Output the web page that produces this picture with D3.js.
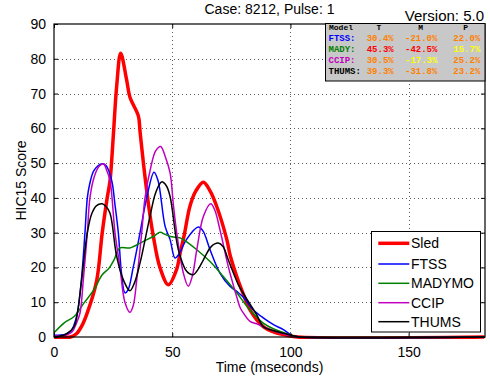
<!DOCTYPE html>
<html><head><meta charset="utf-8">
<script src="https://cdn.jsdelivr.net/npm/d3@7"></script>
<style>body{margin:0;background:#fff}svg{display:block}</style>
</head><body><svg id="c" width="490" height="383" font-family="Liberation Sans, Arial, sans-serif"></svg>
<script>
// ---- data ----
const sledT = [0,7,9.6,12,14.1,18,20.4,22.5,23.7,25.1,26.5,28.2,30.7,32.1,35.7,36.4,38.5,40.6,42,44.8,48.4,51.9,53.3,55,57.5,60,63.2,66,68.8,73.1,74.5,77.3,80,82.9,88.5,94,98.4,103,182];
const sledV = [0,0,1,3.5,7,16,30,40,45,58,72,81.6,74,69,63.5,59,46,35,29,20,15,19.5,24,29,37.6,42,44.5,42,37.6,28,23.5,17.4,12.5,7.8,3,1.2,0.5,0,0];
const ftssT = [0,5,7,8.5,9.9,11.6,13.1,14.1,15.1,17,20.4,22,24.4,25.8,27.2,28.6,30,31.3,33.5,36.4,39.2,42.3,44,47,49.1,51.2,53,56,61,63,66,70.2,74.5,77.3,80,84,88.5,93,97,101,104,182];
const ftssV = [0.5,0.8,1.5,3.5,6.9,16.5,30,40,44,48,49.8,49.3,45,38,30,18,12.7,13.5,20,30,40,47.4,45,31.8,28,22.7,24,28,31.6,30.5,25.1,18.4,14.5,13.1,11.5,8,5.5,3.5,2.1,0.3,0,0];
const madyT = [0,4.2,8.5,12.7,16.9,20.4,23.3,25.4,27.9,32.1,37.8,42,44.8,47,49.1,53.3,54.7,60.4,66,71.6,77.3,82,88.5,93,97,102,104,182];
const madyV = [1.2,4,5.9,9.8,13.6,17.9,19.8,22.2,25.6,25.6,27.5,28.9,30.1,29.5,28.9,28.5,28,25.1,21.7,17.4,12.7,8.5,4,2.3,1.3,0.2,0,0];
const ccipT = [0,5,7.7,9.5,11,12.4,14.1,15.2,17,19,20.9,22.5,23.7,25.8,27.9,30,32.1,33.5,35,37.1,38.5,41,43,45.1,47,49.1,50.5,51.9,54.7,56.8,58.5,60.4,63.2,66.3,68,70.2,73.7,75.2,77.3,78.7,80,82.9,85.7,90,95,100,104,182];
const ccipV = [0.3,0.5,1.5,4,6.9,16.5,30,40,46,49,49.8,47.5,45,30,20,10,7.1,9,16.5,30,40,49,53.5,54.8,52,47.2,38,30,18.4,14.6,17.5,25.1,34.7,38.3,36.5,30.8,20.3,16.5,11.5,8.5,7,4.5,3.8,2.5,1.3,0.4,0,0];
const thumT = [0,5,8.5,9.9,11.7,14.1,16,18,20.4,22,23.7,26.5,29.3,32.1,34,36.4,40.6,43,45.5,47.5,49.1,52.6,56.1,58.9,61,63.2,66.5,69.5,71.5,73.7,78,81,85.7,88.5,93,97,101,104,182];
const thumV = [0,0.8,3,6.9,16.5,30,35.5,37.8,38.3,37.5,35.6,23.2,16.5,13.3,15.5,21.3,34.7,41.5,44.6,43.5,40.4,25.1,18.9,17.9,19.5,22.2,26,27,26,22.2,15,11.5,6.4,3,1.8,1.1,0.4,0,0];

const seriesNames = ["Sled","FTSS","MADYMO","CCIP","THUMS"];
const seriesColors = ["#ff0000","#0000ff","#008000","#c000c0","#000000"];
const seriesWidths = [3.5,1.5,1.5,1.5,1.5];
const seriesT = [sledT,ftssT,madyT,ccipT,thumT];
const seriesV = [sledV,ftssV,madyV,ccipV,thumV];

const xTicks = [0,50,100,150];
const yTicks = [0,10,20,30,40,50,60,70,80,90];

const tableHeader = ["Model","T","M","P"];
const tableModels = ["FTSS:","MADY:","CCIP:","THUMS:"];
const tableModelColors = ["#0000ff","#008000","#c000c0","#000000"];
const tableT = ["30.4%","45.3%","30.5%","39.3%"];
const tableM = ["-21.0%","-42.5%","-17.3%","-31.8%"];
const tableP = ["22.0%","15.7%","25.2%","23.2%"];
const tableTColors = ["#ff8000","#ff0000","#ff8000","#ff8000"];
const tableMColors = ["#ff8000","#ff0000","#ffff00","#ff8000"];
const tablePColors = ["#ff8000","#ffff00","#ff8000","#ff8000"];

// ---- layout ----
const svg = d3.select("#c");
const L = 54, R = 485, T = 24, B = 337;
const x = d3.scaleLinear().domain([0,182.3]).range([L,R]);
const y = d3.scaleLinear().domain([0,90]).range([B,T]);

// gridlines
const grid = svg.append("g");
grid.selectAll("line.gx").data(xTicks.filter(d=>d>0)).join("line")
  .attr("x1",d=>Math.round(x(d))+0.5).attr("x2",d=>Math.round(x(d))+0.5)
  .attr("y1",T).attr("y2",B).attr("stroke","#333").attr("stroke-width",0.8).attr("stroke-dasharray","1,3");
grid.selectAll("line.gy").data(yTicks.filter(d=>d>0&&d<90)).join("line")
  .attr("y1",d=>Math.round(y(d))+0.5).attr("y2",d=>Math.round(y(d))+0.5)
  .attr("x1",L).attr("x2",R).attr("stroke","#333").attr("stroke-width",0.8).attr("stroke-dasharray","1,3");

// clip
svg.append("clipPath").attr("id","pc").append("rect").attr("x",L).attr("y",T).attr("width",R-L).attr("height",B-T+2);

const line = d3.line().x(d=>x(d[0])).y(d=>y(Math.max(0,d[1]))).curve(d3.curveCatmullRom.alpha(0.5));
const lg = svg.append("g").attr("clip-path","url(#pc)");
seriesNames.forEach((n,i)=>{
  const pts = seriesT[i].map((t,j)=>[t,seriesV[i][j]]);
  lg.append("path").attr("d",line(pts)).attr("fill","none")
    .attr("stroke",seriesColors[i]).attr("stroke-width",seriesWidths[i]).attr("stroke-linejoin","round");
});

// axes
const fontSize = 14;
const xAxis = d3.axisBottom(x).tickValues(xTicks).tickSize(-4).tickPadding(8).tickFormat(d3.format("d"));
const gx = svg.append("g").attr("transform",`translate(0,${B})`).call(xAxis);
const yAxis = d3.axisLeft(y).tickValues(yTicks).tickSize(-4).tickPadding(8).tickFormat(d3.format("d"));
const gy = svg.append("g").attr("transform",`translate(${L},0)`).call(yAxis);
svg.append("g").attr("transform",`translate(0,${T})`).call(d3.axisTop(x).tickValues(xTicks).tickSize(-4).tickFormat(""));
svg.append("g").attr("transform",`translate(${R},0)`).call(d3.axisRight(y).tickValues(yTicks).tickSize(-4).tickFormat(""));
svg.selectAll(".domain").remove();
svg.selectAll(".tick line").attr("stroke","#000");
[gx,gy].forEach(g=>g.selectAll("text").attr("font-size",fontSize).attr("font-family","Liberation Sans, Arial, sans-serif").attr("fill","#000"));
gx.selectAll("text").attr("dy","0.85em");
// frame
svg.append("rect").attr("x",L).attr("y",T).attr("width",R-L).attr("height",B-T).attr("fill","none").attr("stroke","#000").attr("stroke-width",1.2);

// labels
svg.append("text").attr("x",(L+R)/2).attr("y",14).attr("text-anchor","middle").attr("font-size",14).text("Case: 8212, Pulse: 1");
svg.append("text").attr("x",484).attr("y",21).attr("text-anchor","end").attr("font-size",15).text("Version: 5.0");
svg.append("text").attr("x",(L+R)/2).attr("y",372).attr("text-anchor","middle").attr("font-size",14).text("Time (mseconds)");
svg.append("text").attr("transform",`translate(26,${(T+B)/2}) rotate(-90)`).attr("text-anchor","middle").attr("font-size",14).text("HIC15 Score");

// table
const tb = svg.append("g");
tb.append("rect").attr("x",325.5).attr("y",23.5).attr("width",159.5).attr("height",57.5).attr("fill","#c8c8c8").attr("stroke","#000");
const mono = "'Liberation Mono', 'Courier New', monospace";
const hx = [329,379,420.7,465.7];
tableHeader.forEach((h,i)=>tb.append("text").attr("x",hx[i]).attr("y",29.5).style("font-family",mono).attr("font-weight","bold").attr("font-size",8).attr("text-anchor",i===0?"start":"middle").attr("fill","#000").text(h));
const rowY = [40.5,52,63,74];
tableModels.forEach((m,i)=>{
  const mk=(xx,txt,col)=>tb.append("text").attr("x",xx).attr("y",rowY[i]).style("font-family",mono).attr("font-weight","bold").attr("font-size",9).attr("fill",col).text(txt);
  mk(328.5,m,tableModelColors[i]);
  mk(366.7,tableT[i],tableTColors[i]);
  mk(405,tableM[i],tableMColors[i]);
  mk(453.3,tableP[i],tablePColors[i]);
});

// legend
const lgd = svg.append("g");
lgd.append("rect").attr("x",371.5).attr("y",231.5).attr("width",109).attr("height",100.5).attr("fill","#fff").attr("stroke","#000");
const legY = [243.3,264,283.3,302.7,321.7];
seriesNames.forEach((n,i)=>{
  lgd.append("line").attr("x1",378.3).attr("x2",409.3).attr("y1",legY[i]).attr("y2",legY[i]).attr("stroke",seriesColors[i]).attr("stroke-width",seriesWidths[i]);
  lgd.append("text").attr("x",411).attr("y",legY[i]).attr("dy","0.36em").attr("font-size",14).text(n);
});
</script></body></html>
